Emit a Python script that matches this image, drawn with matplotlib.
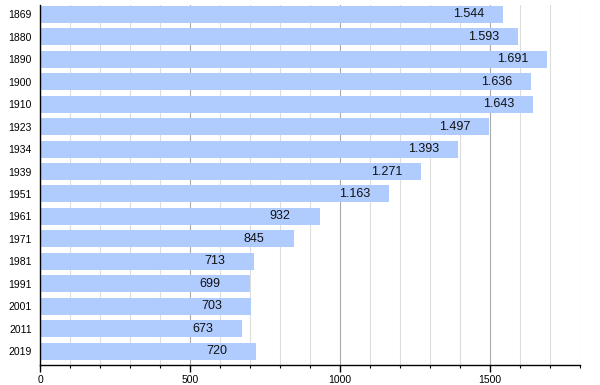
import matplotlib
matplotlib.use("Agg")
import matplotlib.pyplot as plt
from matplotlib.ticker import MultipleLocator

plt.rcParams["font.family"] = ["Liberation Sans", "DejaVu Sans"]

years = ["1869", "1880", "1890", "1900", "1910", "1923", "1934", "1939",
         "1951", "1961", "1971", "1981", "1991", "2001", "2011", "2019"]
population = [1544, 1593, 1691, 1636, 1643, 1497, 1393, 1271,
              1163, 932, 845, 713, 699, 703, 673, 720]


def fmt(v):
    # thousands separator as a dot
    return "{:,}".format(v).replace(",", ".")


fig = plt.figure(figsize=(6, 3.85), dpi=100)
ax = fig.add_axes([40 / 600, 20 / 385, 540 / 600, 360 / 385])

pos = list(range(len(years)))
ax.barh(pos, population, height=0.757, color="#b0ccff", zorder=2)

for y, v in zip(pos, population):
    ax.annotate(fmt(v), xy=(v, y), xytext=(-50, 0), textcoords="offset pixels",
                ha="left", va="center", fontsize=9, color="#111111", zorder=3)

ax.set_xlim(0, 1800)
ax.set_ylim(15.61, -0.41)
ax.set_yticks(pos)
ax.set_yticklabels(years, fontsize=7.5)
ax.tick_params(axis="y", length=0, pad=6)

ax.xaxis.set_major_locator(MultipleLocator(500))
ax.xaxis.set_minor_locator(MultipleLocator(100))
ax.tick_params(axis="x", which="major", length=5, width=1, labelsize=7.5, pad=2)
ax.tick_params(axis="x", which="minor", length=2.5, width=0.8)
ax.grid(axis="x", which="minor", color="#dddddd", linewidth=0.8, zorder=0)
ax.grid(axis="x", which="major", color="#aaaaaa", linewidth=0.8, zorder=0)

for s in ["top", "right"]:
    ax.spines[s].set_visible(False)
ax.spines["left"].set_linewidth(1)
ax.spines["bottom"].set_linewidth(1)

fig.savefig("out.png", dpi=100)
